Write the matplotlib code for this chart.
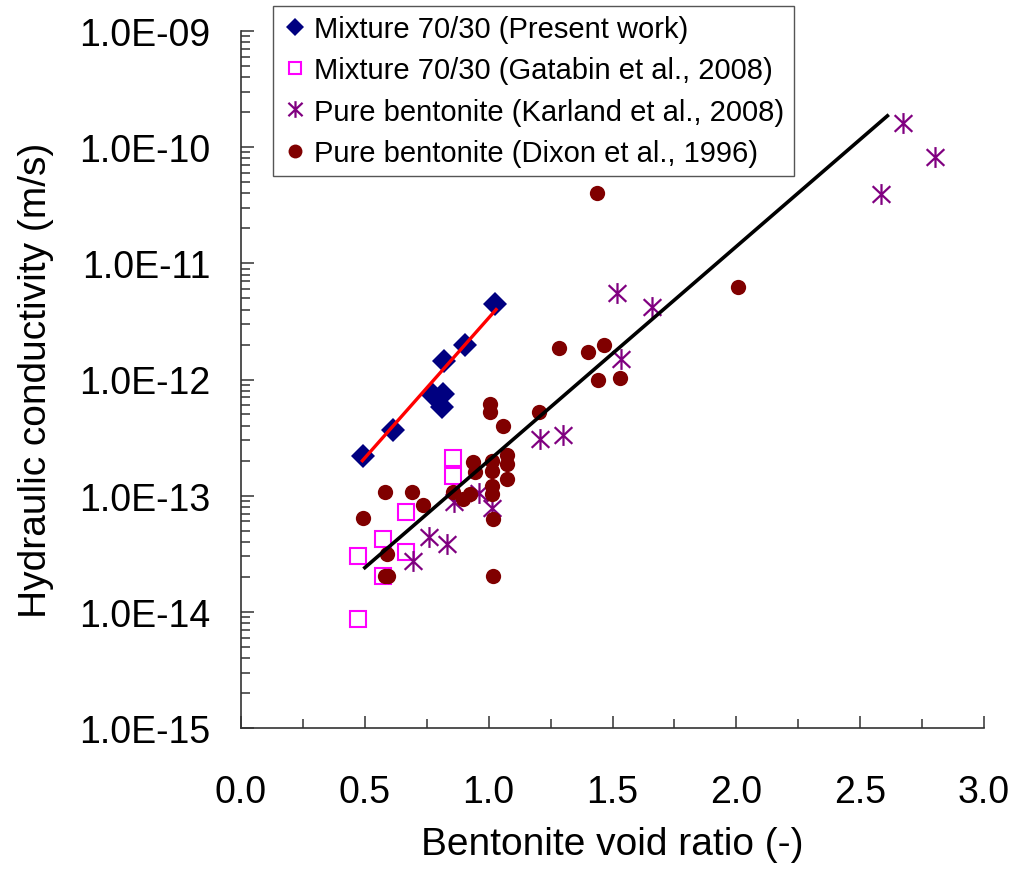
import matplotlib
matplotlib.use('Agg')
import matplotlib.pyplot as plt
from matplotlib.path import Path
from matplotlib.ticker import MultipleLocator, LogLocator, FuncFormatter, NullFormatter

plt.rcParams['font.family'] = ['Liberation Sans', 'DejaVu Sans']

# Mixture 70/30 (present work)
present_x = [0.494, 0.615, 0.770, 0.817, 0.810, 0.820, 0.904, 1.025]
present_k = [2.2e-13, 3.7e-13, 7.5e-13, 7.5e-13, 5.8e-13, 1.45e-12, 2.0e-12, 4.5e-12]

# Mixture 70/30 (Gatabin et al., 2008)
gatabin_x = [0.855, 0.855, 0.668, 0.574, 0.473, 0.668, 0.574, 0.473]
gatabin_k = [2.1e-13, 1.47e-13, 7.2e-14, 4.2e-14, 3.0e-14, 3.25e-14, 2.05e-14, 8.7e-15]

# Pure bentonite (Karland et al., 2008)
karland_x = [0.693, 0.759, 0.830, 0.860, 0.960, 1.014, 1.207, 1.300,
             1.519, 1.658, 1.534, 2.586, 2.671, 2.802]
karland_k = [2.75e-14, 4.4e-14, 3.8e-14, 8.8e-14, 1.05e-13, 7.9e-14, 3.1e-13, 3.3e-13,
             5.6e-12, 4.2e-12, 1.5e-12, 3.95e-11, 1.6e-10, 8.3e-11]

# Pure bentonite (Dixon et al., 1996)
dixon_x = [1.436, 2.008, 1.284, 1.400, 1.466, 1.443, 1.530, 1.204, 1.005, 1.005,
           1.059, 0.938, 1.012, 1.073, 1.073, 1.012, 0.944, 1.073, 1.012, 1.012,
           0.924, 0.897, 0.857, 0.733, 0.689, 0.581, 0.494, 1.016, 0.588, 0.581,
           0.594, 1.016]
dixon_k = [4.0e-11, 6.3e-12, 1.85e-12, 1.73e-12, 2.0e-12, 1.0e-12, 1.04e-12, 5.3e-13, 6.1e-13, 5.2e-13,
           4.0e-13, 1.96e-13, 2.0e-13, 2.24e-13, 1.89e-13, 1.63e-13, 1.59e-13, 1.38e-13, 1.22e-13, 1.03e-13,
           1.03e-13, 9.35e-14, 1.07e-13, 8.3e-14, 1.07e-13, 1.07e-13, 6.4e-14, 6.3e-14, 3.14e-14, 2.05e-14,
           2.05e-14, 2.05e-14]

# trend lines (end points)
fit_mix_x = [0.49, 1.03]
fit_mix_k = [2.0e-13, 4.0e-12]
fit_pure_x = [0.50, 2.61]
fit_pure_k = [2.4e-14, 1.86e-10]

# Excel style asterisk: vertical bar plus an X
asterisk = Path([(0, -1), (0, 1), (-0.85, -0.8), (0.85, 0.8), (-0.85, 0.8), (0.85, -0.8)],
                [Path.MOVETO, Path.LINETO, Path.MOVETO, Path.LINETO, Path.MOVETO, Path.LINETO])

fig = plt.figure(figsize=(10.1, 8.7), dpi=100)
ax = fig.add_axes([241/1010, 1 - 729/870, (984 - 241)/1010, (729 - 32)/870])

ax.plot(present_x, present_k, linestyle='none', marker='D', markersize=12.5,
        color='#000080', markeredgewidth=0, label='Mixture 70/30 (Present work)', zorder=3)
ax.plot(gatabin_x, gatabin_k, linestyle='none', marker='s', markersize=11,
        markerfacecolor='none', markeredgecolor='#FF00FF', markeredgewidth=1.5,
        label='Mixture 70/30 (Gatabin et al., 2008)', zorder=3)
ax.plot(karland_x, karland_k, linestyle='none', marker=asterisk, markersize=15,
        markerfacecolor='none', markeredgecolor='#800080', markeredgewidth=1.6,
        label='Pure bentonite (Karland et al., 2008)', zorder=3)
ax.plot(dixon_x, dixon_k, linestyle='none', marker='o', markersize=11,
        color='#800000', markeredgewidth=0, label='Pure bentonite (Dixon et al., 1996)', zorder=3)

ax.plot(fit_mix_x, fit_mix_k, color='#FF0000', linewidth=2.4, zorder=4)
ax.plot(fit_pure_x, fit_pure_k, color='black', linewidth=2.6, zorder=4)

ax.set_yscale('log')
ax.set_xlim(0, 3.0)
ax.set_ylim(1e-15, 1e-9)

ax.xaxis.set_major_locator(MultipleLocator(0.5))
ax.xaxis.set_minor_locator(MultipleLocator(0.25))
ax.yaxis.set_major_locator(LogLocator(base=10, numticks=10))
ax.yaxis.set_minor_locator(LogLocator(base=10, subs=range(2, 10), numticks=20))
ax.yaxis.set_minor_formatter(NullFormatter())
ax.xaxis.set_major_formatter(FuncFormatter(lambda v, p: f'{v:.1f}'))
ax.yaxis.set_major_formatter(FuncFormatter(lambda v, p: f'{v:.1E}'))

ax.tick_params(axis='both', which='both', direction='in', width=1.1, color='#333333')
ax.tick_params(axis='x', which='major', length=8.5, pad=33, labelsize=27)
ax.tick_params(axis='x', which='minor', length=6.5)
ax.tick_params(axis='y', which='major', length=9, pad=22, labelsize=27)
ax.tick_params(axis='y', which='minor', length=6.5)

for side in ['top', 'right']:
    ax.spines[side].set_visible(False)
for side in ['left', 'bottom']:
    ax.spines[side].set_linewidth(1.2)
    ax.spines[side].set_color('#333333')

ax.set_xlabel('Bentonite void ratio (-)', fontsize=28, labelpad=12)
ax.set_ylabel('Hydraulic conductivity (m/s)', fontsize=28, labelpad=18)

leg = ax.legend(loc='upper left', bbox_to_anchor=(273/1010, 1 - 7/870),
                bbox_transform=fig.transFigure, fontsize=21, frameon=True,
                fancybox=False, framealpha=1, edgecolor='#555555',
                handlelength=0.85, handletextpad=0.25, labelspacing=0.45,
                borderpad=0.32, borderaxespad=0)
leg.get_frame().set_linewidth(1.0)
# legend symbols are a touch smaller than the plotted ones
for h, ms in zip(leg.legend_handles, [9.5, 9, 12, 10]):
    h.set_markersize(ms)

fig.savefig('out.png', dpi=100)
